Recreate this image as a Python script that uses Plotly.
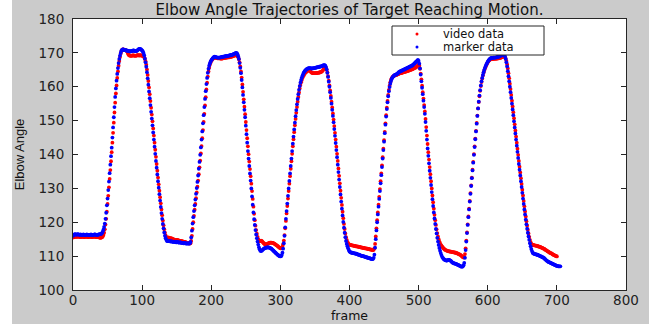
import plotly.graph_objects as go

# Elbow angle per frame (frame index = position in list)
marker_data = [
116.0, 116.2, 116.4, 116.5, 116.4, 116.3, 116.4, 116.5, 116.4, 116.3,
116.3, 116.4, 116.3, 116.2, 116.3, 116.4, 116.3, 116.3, 116.2, 116.3,
116.4, 116.3, 116.3, 116.2, 116.3, 116.3, 116.4, 116.3, 116.2, 116.3,
116.3, 116.4, 116.4, 116.3, 116.3, 116.2, 116.3, 116.4, 116.4, 116.5,
116.5, 116.6, 116.8, 117.2, 117.8, 118.6, 119.6, 121.0, 122.8, 125.0,
127.0, 129.5, 132.0, 134.5, 137.0, 139.5, 142.0, 145.0, 148.0, 151.0,
154.0, 157.0, 159.5, 161.8, 163.8, 165.5, 167.0, 168.2, 169.2, 170.0,
170.6, 170.9, 171.0, 171.0, 170.9, 170.8, 170.8, 170.7, 170.7, 170.6,
170.6, 170.5, 170.5, 170.4, 170.5, 170.5, 170.6, 170.7, 170.7, 170.6,
170.5, 170.5, 170.6, 170.7, 170.9, 171.1, 171.2, 171.2, 171.1, 170.9,
170.7, 170.4, 170.0, 169.3, 168.3, 167.2, 165.9, 164.3, 162.5, 160.6,
158.6, 156.6, 154.6, 152.6, 150.6, 148.6, 146.5, 144.4, 142.3, 140.2,
138.1, 136.1, 134.1, 132.1, 130.2, 128.3, 126.4, 124.5, 122.7, 121.0,
119.5, 118.2, 117.0, 116.0, 115.3, 114.8, 114.5, 114.4, 114.5, 114.4,
114.4, 114.3, 114.4, 114.3, 114.3, 114.2, 114.2, 114.3, 114.2, 114.1,
114.1, 114.2, 114.1, 114.0, 114.0, 114.1, 114.0, 113.9, 113.9, 113.9,
113.8, 113.9, 113.8, 113.8, 113.7, 113.7, 113.8, 113.7, 113.7, 113.8,
114.2, 115.5, 117.5, 119.6, 121.5, 123.3, 125.0, 126.7, 128.4, 130.1,
131.9, 133.8, 135.8, 137.8, 139.9, 142.1, 144.4, 146.8, 149.2, 151.6,
154.0, 156.4, 158.7, 160.8, 162.6, 164.1, 165.3, 166.2, 166.9, 167.4,
167.8, 168.1, 168.4, 168.6, 168.8, 168.9, 168.8, 168.7, 168.7, 168.6,
168.6, 168.6, 168.6, 168.7, 168.7, 168.8, 168.8, 168.9, 168.9, 168.9,
169.0, 169.0, 169.0, 169.1, 169.1, 169.2, 169.2, 169.3, 169.3, 169.4,
169.4, 169.5, 169.6, 169.7, 169.8, 169.9, 170.0, 169.9, 169.6, 169.0,
168.2, 167.0, 165.6, 164.0, 162.0, 159.8, 157.6, 155.4, 153.2, 151.0,
148.5, 146.0, 143.5, 141.0, 138.8, 136.6, 134.4, 132.3, 130.0, 127.6,
125.2, 122.9, 120.9, 119.2, 117.7, 116.4, 115.3, 114.3, 113.4, 112.6,
112.0, 111.6, 111.5, 111.6, 111.8, 112.0, 112.2, 112.3, 112.4, 112.5,
112.5, 112.6, 112.6, 112.6, 112.5, 112.4, 112.3, 112.2, 112.0, 111.8,
111.6, 111.4, 111.2, 111.0, 110.8, 110.6, 110.4, 110.3, 110.1, 110.0,
109.9, 110.0, 110.3, 111.0, 112.2, 113.8, 116.0, 118.5, 121.0, 123.3,
125.5, 127.8, 130.0, 132.2, 134.4, 136.6, 138.8, 141.0, 143.2, 145.3,
147.4, 149.4, 151.3, 153.1, 154.8, 156.4, 157.8, 159.1, 160.2, 161.2,
162.0, 162.7, 163.3, 163.8, 164.2, 164.5, 164.8, 165.0, 165.2, 165.3,
165.4, 165.5, 165.5, 165.5, 165.4, 165.4, 165.4, 165.4, 165.5, 165.5,
165.6, 165.6, 165.7, 165.7, 165.8, 165.8, 165.9, 165.9, 166.0, 166.0,
166.1, 166.2, 166.3, 166.4, 166.4, 166.2, 165.8, 165.1, 164.1, 162.9,
161.5, 160.0, 158.4, 156.7, 155.0, 153.2, 151.4, 149.5, 147.5, 145.5,
143.4, 141.3, 139.2, 137.0, 134.8, 132.6, 130.4, 128.2, 126.1, 124.0,
122.0, 120.1, 118.4, 116.9, 115.6, 114.5, 113.6, 112.9, 112.3, 111.8,
111.4, 111.2, 111.1, 111.0, 111.0, 110.9, 110.9, 110.8, 110.8, 110.7,
110.7, 110.6, 110.5, 110.4, 110.4, 110.3, 110.2, 110.1, 110.1, 110.0,
110.0, 109.9, 109.8, 109.8, 109.7, 109.6, 109.6, 109.5, 109.4, 109.4,
109.3, 109.2, 109.2, 109.1, 109.2, 109.5, 110.4, 112.5, 115.0, 117.6,
120.0, 122.3, 124.6, 126.9, 129.2, 131.5, 133.9, 136.3, 138.8, 141.3,
143.8, 146.3, 148.8, 151.2, 153.4, 155.4, 157.2, 158.7, 159.9, 160.9,
161.7, 162.3, 162.7, 163.0, 163.2, 163.4, 163.5, 163.6, 163.7, 163.8,
164.0, 164.2, 164.4, 164.5, 164.6, 164.7, 164.8, 164.9, 165.0, 165.1,
165.2, 165.3, 165.4, 165.5, 165.6, 165.7, 165.8, 165.9, 166.0, 166.1,
166.2, 166.3, 166.5, 166.7, 166.9, 167.1, 167.3, 167.5, 167.7, 167.9,
167.6, 166.8, 165.4, 163.6, 161.6, 159.7, 157.8, 155.9, 154.0, 152.0,
149.6, 147.0, 144.4, 141.8, 139.6, 137.4, 135.2, 133.1, 131.0, 128.9,
126.8, 124.8, 122.9, 121.1, 119.5, 118.0, 116.7, 115.4, 114.3, 113.3,
112.4, 111.6, 110.9, 110.3, 109.8, 109.5, 109.2, 109.0, 108.9, 108.8,
108.7, 108.7, 108.8, 108.9, 108.9, 108.8, 108.7, 108.5, 108.3, 108.1,
108.0, 107.9, 107.8, 107.8, 107.7, 107.6, 107.5, 107.4, 107.3, 107.2,
107.1, 107.0, 106.9, 106.9, 107.0, 107.3, 108.0, 109.5, 111.8, 114.3,
116.8, 119.2, 121.5, 123.8, 126.1, 128.4, 130.7, 133.0, 135.3, 137.6,
139.9, 142.2, 144.5, 146.8, 149.1, 151.4, 153.6, 155.6, 157.4, 159.0,
160.4, 161.6, 162.6, 163.5, 164.3, 165.0, 165.6, 166.1, 166.6, 167.0,
167.4, 167.7, 168.0, 168.2, 168.4, 168.5, 168.5, 168.5, 168.6, 168.6,
168.6, 168.6, 168.7, 168.7, 168.8, 168.8, 168.9, 169.0, 169.1, 169.2,
169.3, 169.4, 169.5, 169.5, 169.3, 168.9, 168.2, 167.2, 166.0, 164.6,
163.1, 161.6, 160.0, 158.4, 156.7, 155.0, 153.3, 151.6, 149.8, 148.0,
146.2, 144.4, 142.6, 140.8, 139.0, 137.2, 135.5, 133.8, 132.1, 130.4,
128.7, 127.0, 125.4, 123.8, 122.3, 120.8, 119.4, 118.1, 116.9, 115.8,
114.8, 113.8, 112.9, 112.1, 111.5, 111.0, 110.8, 110.7, 110.6, 110.6,
110.5, 110.4, 110.4, 110.3, 110.2, 110.1, 110.0, 109.9, 109.8, 109.7,
109.6, 109.5, 109.3, 109.1, 108.9, 108.7, 108.6, 108.4, 108.3, 108.2,
108.1, 108.0, 107.9, 107.8, 107.7, 107.6, 107.5, 107.4, 107.3, 107.2,
107.1, 107.1, 107.0, 107.0, 107.0, 107.0,
]

video_data = [
115.5, 115.6, 115.7, 115.7, 115.8, 115.7, 115.7, 115.8, 115.8, 115.7,
115.7, 115.6, 115.7, 115.8, 115.7, 115.7, 115.6, 115.7, 115.7, 115.8,
115.7, 115.7, 115.6, 115.7, 115.7, 115.8, 115.7, 115.6, 115.7, 115.7,
115.7, 115.8, 115.7, 115.7, 115.6, 115.6, 115.7, 115.6, 115.5, 115.5,
115.4, 115.5, 115.6, 115.8, 116.2, 116.9, 117.9, 119.3, 121.0, 123.1,
125.4, 127.8, 130.3, 132.8, 135.4, 138.0, 140.7, 143.5, 146.4, 149.4,
152.4, 155.3, 158.0, 160.4, 162.6, 164.5, 166.2, 167.6, 168.8, 169.8,
170.5, 170.9, 171.0, 171.0, 170.9, 170.9, 170.8, 170.7, 170.5, 170.1,
169.6, 169.3, 169.2, 169.2, 169.1, 169.2, 169.2, 169.3, 169.2, 169.2,
169.1, 169.2, 169.2, 169.3, 169.3, 169.3, 169.2, 169.3, 169.3, 169.2,
169.2, 169.1, 169.0, 168.7, 168.2, 167.5, 166.5, 165.1, 163.5, 161.7,
159.8, 157.8, 155.8, 153.8, 151.8, 149.8, 147.7, 145.6, 143.5, 141.4,
139.3, 137.2, 135.2, 133.2, 131.2, 129.3, 127.4, 125.6, 123.8, 122.1,
120.5, 119.1, 117.9, 116.9, 116.1, 115.6, 115.4, 115.4, 115.5, 115.4,
115.3, 115.3, 115.2, 115.2, 115.1, 115.0, 114.9, 114.9, 114.8, 114.8,
114.7, 114.8, 114.7, 114.6, 114.6, 114.5, 114.5, 114.4, 114.4, 114.3,
114.3, 114.2, 114.2, 114.1, 114.0, 113.9, 113.9, 113.8, 113.8, 113.7,
113.8, 114.5, 116.0, 118.0, 120.0, 121.9, 123.7, 125.4, 127.1, 128.8,
130.5, 132.3, 134.2, 136.2, 138.2, 140.3, 142.5, 144.8, 147.2, 149.6,
152.0, 154.5, 156.9, 159.2, 161.2, 163.0, 164.5, 165.6, 166.5, 167.1,
167.6, 167.9, 168.2, 168.4, 168.5, 168.6, 168.6, 168.5, 168.5, 168.4,
168.4, 168.4, 168.4, 168.4, 168.3, 168.3, 168.4, 168.4, 168.5, 168.5,
168.5, 168.6, 168.6, 168.6, 168.7, 168.7, 168.7, 168.8, 168.8, 168.9,
168.9, 169.0, 169.1, 169.2, 169.2, 169.3, 169.3, 169.3, 169.1, 168.7,
168.1, 167.2, 166.0, 164.5, 162.7, 160.7, 158.5, 156.3, 154.1, 151.9,
149.6, 147.2, 144.8, 142.4, 140.1, 137.9, 135.7, 133.6, 131.4, 129.2,
126.9, 124.6, 122.5, 120.6, 119.0, 117.7, 116.6, 115.7, 115.0, 114.6,
114.4, 114.5, 114.6, 114.5, 114.3, 114.0, 113.8, 113.6, 113.5, 113.4,
113.5, 113.6, 113.7, 113.8, 113.9, 114.0, 114.0, 114.0, 113.9, 113.9,
113.8, 113.7, 113.6, 113.4, 113.3, 113.1, 113.0, 112.8, 112.6, 112.5,
112.3, 112.3, 112.5, 112.8, 113.5, 114.6, 116.2, 118.2, 120.4, 122.6,
124.8, 127.0, 129.2, 131.4, 133.6, 135.8, 138.0, 140.2, 142.4, 144.5,
146.6, 148.6, 150.5, 152.3, 154.0, 155.6, 157.0, 158.3, 159.5, 160.5,
161.3, 162.0, 162.6, 163.1, 163.5, 163.8, 164.1, 164.3, 164.5, 164.7,
164.8, 164.9, 164.8, 164.6, 164.4, 164.2, 164.1, 164.0, 164.0, 164.0,
164.0, 164.0, 164.0, 164.1, 164.1, 164.1, 164.2, 164.2, 164.3, 164.4,
164.5, 164.7, 165.0, 165.4, 165.8, 165.9, 165.6, 165.0, 164.2, 163.1,
161.8, 160.4, 158.9, 157.3, 155.6, 153.9, 152.1, 150.3, 148.4, 146.4,
144.4, 142.3, 140.2, 138.1, 135.9, 133.7, 131.5, 129.3, 127.2, 125.1,
123.1, 121.2, 119.5, 118.0, 116.7, 115.6, 114.8, 114.2, 113.8, 113.5,
113.4, 113.3, 113.3, 113.2, 113.2, 113.1, 113.1, 113.0, 113.0, 112.9,
112.9, 112.9, 112.8, 112.8, 112.7, 112.7, 112.6, 112.6, 112.5, 112.5,
112.4, 112.4, 112.3, 112.3, 112.3, 112.2, 112.2, 112.1, 112.1, 112.0,
112.0, 111.9, 111.9, 111.8, 111.8, 111.9, 112.3, 113.6, 115.8, 118.2,
120.6, 122.9, 125.2, 127.5, 129.8, 132.1, 134.4, 136.8, 139.2, 141.7,
144.2, 146.7, 149.2, 151.6, 153.8, 155.8, 157.6, 159.1, 160.3, 161.3,
162.0, 162.5, 162.8, 163.0, 163.2, 163.3, 163.4, 163.5, 163.5, 163.6,
163.7, 163.8, 163.9, 164.0, 164.0, 164.1, 164.1, 164.2, 164.3, 164.3,
164.4, 164.5, 164.5, 164.6, 164.7, 164.7, 164.8, 164.9, 165.0, 165.0,
165.1, 165.2, 165.3, 165.4, 165.5, 165.6, 165.7, 165.9, 166.1, 166.3,
166.5, 166.2, 165.3, 163.9, 162.2, 160.3, 158.4, 156.5, 154.6, 152.7,
150.5, 148.1, 145.6, 143.1, 140.7, 138.5, 136.3, 134.2, 132.1, 130.0,
127.9, 125.9, 124.0, 122.2, 120.6, 119.2, 117.9, 116.8, 115.8, 115.0,
114.3, 113.8, 113.4, 113.1, 112.8, 112.6, 112.3, 112.1, 111.9, 111.8,
111.7, 111.6, 111.5, 111.5, 111.4, 111.4, 111.3, 111.3, 111.2, 111.2,
111.2, 111.1, 111.1, 111.0, 111.0, 110.9, 110.8, 110.7, 110.6, 110.5,
110.4, 110.3, 110.1, 109.9, 109.7, 109.6, 109.8, 110.6, 112.3, 114.6,
117.0, 119.4, 121.7, 124.0, 126.3, 128.6, 130.9, 133.2, 135.5, 137.8,
140.1, 142.4, 144.7, 147.0, 149.3, 151.5, 153.6, 155.5, 157.2, 158.8,
160.2, 161.4, 162.4, 163.3, 164.1, 164.8, 165.4, 165.9, 166.4, 166.8,
167.2, 167.5, 167.8, 168.0, 168.1, 168.2, 168.2, 168.2, 168.2, 168.3,
168.3, 168.3, 168.3, 168.3, 168.4, 168.4, 168.4, 168.5, 168.5, 168.6,
168.7, 168.8, 168.9, 169.0, 168.9, 168.7, 168.3, 167.6, 166.6, 165.4,
164.0, 162.5, 160.9, 159.3, 157.6, 155.9, 154.2, 152.5, 150.7, 148.9,
147.1, 145.3, 143.5, 141.7, 139.9, 138.1, 136.4, 134.7, 133.0, 131.3,
129.6, 127.9, 126.3, 124.7, 123.2, 121.7, 120.3, 119.0, 117.8, 116.7,
115.7, 114.8, 114.1, 113.6, 113.4, 113.3, 113.3, 113.2, 113.2, 113.1,
113.1, 113.0, 113.0, 112.9, 112.8, 112.8, 112.7, 112.6, 112.5, 112.4,
112.3, 112.2, 112.1, 111.9, 111.8, 111.7, 111.5, 111.4, 111.3, 111.1,
111.0, 110.9, 110.8, 110.7, 110.5, 110.4, 110.3, 110.2, 110.1, 110.0,
109.9,
]

video_frames = list(range(len(video_data)))
marker_frames = list(range(len(marker_data)))

series_names = ["video data", "marker data"]
series_colors = ["#ff0000", "#0000ff"]

x_ticks = [0, 100, 200, 300, 400, 500, 600, 700, 800]
y_ticks = [100, 110, 120, 130, 140, 150, 160, 170, 180]

title_text = "Elbow Angle Trajectories of Target Reaching Motion."
x_label = "frame"
y_label = "Elbow Angle"

W, H = 649, 324
L, R, T, B = 73, 23, 19, 34
PW, PH = W - L - R, H - T - B


def px(xp):
    return (xp - L) / PW


def py(yp):
    return (H - B - yp) / PH


fig = go.Figure()
fig.add_trace(go.Scatter(x=video_frames, y=video_data, mode="markers",
                         name=series_names[0], showlegend=False,
                         marker=dict(color=series_colors[0], size=3.8, line=dict(width=0))))
fig.add_trace(go.Scatter(x=marker_frames, y=marker_data, mode="markers",
                         name=series_names[1], showlegend=False,
                         marker=dict(color=series_colors[1], size=3.8, line=dict(width=0))))

axis_col = "#262626"
font_h = "DejaVu Sans"

shapes = [
    # white strip at far left of the image
    dict(type="rect", xref="paper", yref="paper", x0=px(0), x1=px(12), y0=py(H), y1=py(0),
         fillcolor="white", line=dict(width=0), layer="below"),
    # legend box
    dict(type="rect", xref="paper", yref="paper", x0=px(392), x1=px(544), y0=py(55), y1=py(26),
         fillcolor="white", line=dict(color=axis_col, width=1)),
]
leg_y = [34, 47]
for i, yy in enumerate(leg_y):
    shapes.append(dict(type="circle", xref="paper", yref="paper",
                       x0=px(415.5), x1=px(418.5), y0=py(yy + 1.5), y1=py(yy - 1.5),
                       fillcolor=series_colors[i], line=dict(width=0)))

annotations = []
for i, yy in enumerate(leg_y):
    annotations.append(dict(text=series_names[i], xref="paper", yref="paper",
                            x=px(441), y=py(yy), xanchor="left", yanchor="middle",
                            showarrow=False, font=dict(family=font_h, size=11.5, color="#111")))

fig.update_layout(
    width=W, height=H, autosize=False,
    margin=dict(l=L, r=R, t=T, b=B, pad=0, autoexpand=False),
    paper_bgcolor="#cbcbcb", plot_bgcolor="white",
    title=dict(text=title_text, xref="paper", x=px(349.5), xanchor="center",
               yref="container", y=1 - 10 / H, yanchor="middle",
               font=dict(family=font_h, size=15, color="#111")),
    xaxis=dict(range=[0, 800], tickvals=x_ticks, ticks="inside", ticklen=5, tickcolor=axis_col,
               showline=True, linecolor=axis_col, linewidth=1, mirror="ticks",
               showgrid=False, zeroline=False, ticklabelstandoff=-2, automargin=False,
               tickfont=dict(family=font_h, size=13.5, color="#222"),
               title=dict(text=x_label, standoff=1, font=dict(family=font_h, size=12.5, color="#111"))),
    yaxis=dict(range=[100, 180], tickvals=y_ticks, ticks="inside", ticklen=5, tickcolor=axis_col,
               showline=True, linecolor=axis_col, linewidth=1, mirror="ticks",
               showgrid=False, zeroline=False, ticklabelstandoff=5, automargin=False,
               tickfont=dict(family=font_h, size=13.5, color="#222"),
               title=dict(text=y_label, standoff=10, font=dict(family="Liberation Sans", size=13, color="#111"))),
    shapes=shapes,
    annotations=annotations,
    showlegend=False,
)

fig.write_html("out.html")
